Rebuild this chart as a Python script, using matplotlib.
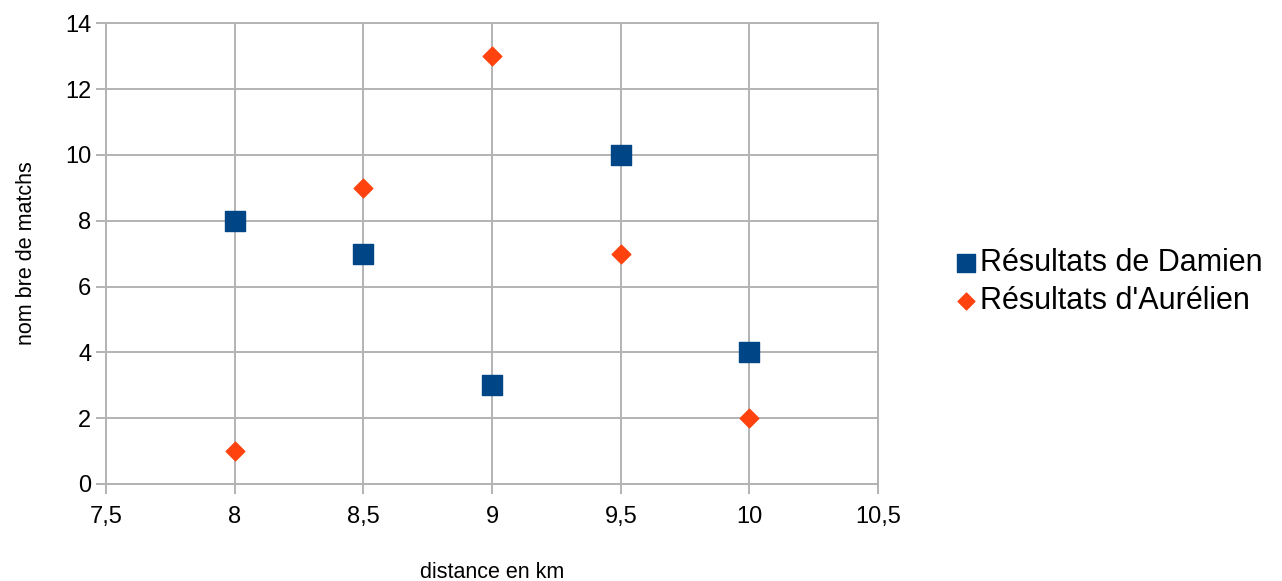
import matplotlib
matplotlib.use('Agg')
import matplotlib.pyplot as plt
from matplotlib.ticker import FuncFormatter

# data
damien_x = [8, 8.5, 9, 9.5, 10]
damien_y = [8, 7, 3, 10, 4]
aurelien_x = [8, 8.5, 9, 9.5, 10]
aurelien_y = [1, 9, 13, 7, 2]
x_ticks = [7.5, 8, 8.5, 9, 9.5, 10, 10.5]
y_ticks = [0, 2, 4, 6, 8, 10, 12, 14]

plt.rcParams['font.family'] = ['Liberation Sans', 'DejaVu Sans']

fig = plt.figure(figsize=(12.82, 5.81), dpi=100)
ax = fig.add_axes([0.0827, 0.167, 0.6023, 0.793])

grid_col = '#b3b3b3'
ax.scatter(damien_x, damien_y, marker='s', s=190, color='#004586',
           label='Résultats de Damien', zorder=3)
ax.scatter(aurelien_x, aurelien_y, marker='D', s=90, color='#ff420e',
           label="Résultats d'Aurélien", zorder=3)

ax.set_xlim(7.5, 10.5)
ax.set_ylim(0, 14)
ax.set_xticks(x_ticks)
ax.set_yticks(y_ticks)
ax.xaxis.set_major_formatter(FuncFormatter(lambda v, p: f"{v:g}".replace('.', ',')))
ax.grid(True, color=grid_col, linewidth=1.4)
ax.set_axisbelow(True)
for s in ax.spines.values():
    s.set_color(grid_col)
    s.set_linewidth(1.4)
ax.tick_params(axis='both', colors=grid_col, length=7, width=1.4,
               labelcolor='black', labelsize=17)
ax.tick_params(axis='x', pad=9)

ax.set_xlabel('distance en km', fontsize=15.5, labelpad=24)
ax.set_ylabel('nom bre de matchs', fontsize=15.5, labelpad=20)

fig.legend(loc='center left', bbox_to_anchor=(0.731, 0.515), frameon=False,
           fontsize=22, handletextpad=0.0, handlelength=0.9,
           labelspacing=0.25, borderpad=0, markerscale=0.9)

fig.savefig('out.png', dpi=100)
